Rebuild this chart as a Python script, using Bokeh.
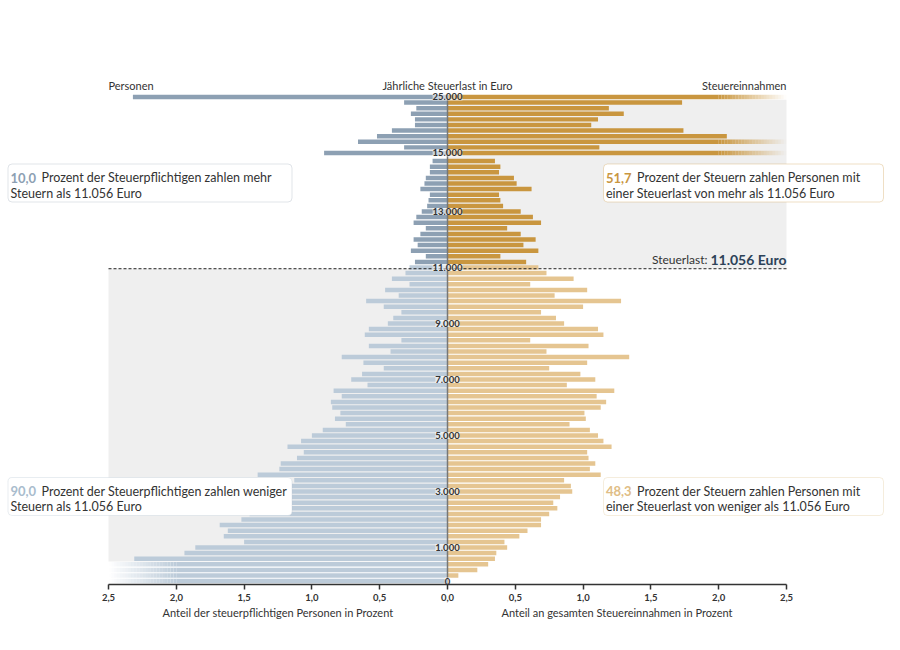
from bokeh.plotting import figure
from bokeh.models import (Range1d, LinearAxis, FixedTicker, CustomJSTickFormatter,
                          BoxAnnotation, ColumnDataSource)
from bokeh.core.properties import value
from bokeh.embed import file_html
from bokeh.resources import INLINE

# ------------------------------------------------------------------ data
# tax-burden bins (lower bound in Euro); the first bin is "exactly 0 Euro"
bins_low = [0] + list(range(0, 15000, 200)) + list(range(15000, 25001, 1000))

# share of tax payers (percent), from the 0-Euro bin upwards
personen = [
    3.2, 2.9, 2.8, 2.7, 2.31, 1.94, 1.86, 1.50, 1.65, 1.62,
    1.68, 1.52, 1.46, 1.42, 1.35, 1.38, 1.30, 1.27, 1.13, 1.40,
    1.24, 1.23, 1.11, 1.06, 1.18, 1.08, 1.00, 0.92, 0.75, 0.83,
    0.79, 0.85, 0.86, 0.78, 0.84, 0.59, 0.71, 0.63, 0.47, 0.62,
    0.78, 0.42, 0.58, 0.34, 0.61, 0.58, 0.44, 0.40, 0.34, 0.47,
    0.60, 0.36, 0.46, 0.28, 0.41, 0.31, 0.28, 0.24, 0.16, 0.27,
    0.22, 0.25, 0.20, 0.16, 0.25, 0.23, 0.19, 0.15, 0.14, 0.13,
    0.20, 0.17, 0.16, 0.13, 0.13, 0.11,
    0.91, 0.32, 0.66, 0.52, 0.41, 0.24, 0.24, 0.27, 0.23, 0.32, 2.32,
]
# share of total tax revenue (percent)
steuer = [
    0.0, 0.08, 0.22, 0.30, 0.35, 0.36, 0.44, 0.42, 0.53, 0.59,
    0.69, 0.69, 0.75, 0.81, 0.78, 0.83, 0.92, 0.91, 0.86, 1.13,
    1.05, 1.09, 1.04, 1.03, 1.21, 1.15, 1.11, 1.05, 0.90, 1.02,
    1.01, 1.13, 1.17, 1.10, 1.23, 0.88, 1.09, 0.98, 0.75, 1.03,
    1.34, 0.73, 1.04, 0.61, 1.15, 1.11, 0.86, 0.80, 0.69, 1.00,
    1.28, 0.79, 1.03, 0.61, 0.93, 0.73, 0.67, 0.58, 0.39, 0.67,
    0.56, 0.65, 0.54, 0.44, 0.69, 0.63, 0.54, 0.41, 0.39, 0.38,
    0.62, 0.51, 0.49, 0.38, 0.39, 0.35,
    3.4, 1.12, 3.2, 2.06, 1.74, 1.06, 1.11, 1.30, 1.19, 1.73, 23.8,
]
threshold = 11056
share_persons_above, share_persons_below = "10,0", "90,0"
share_tax_above, share_tax_below = "51,7", "48,3"
y_tick_values = [0, 1000, 3000, 5000, 7000, 9000, 11000, 13000, 15000, 25000]
y_tick_labels = ["0", "1.000", "3.000", "5.000", "7.000", "9.000", "11.000",
                 "13.000", "15.000", "25.000"]
x_ticks = [-2.5, -2.0, -1.5, -1.0, -0.5, 0.0, 0.5, 1.0, 1.5, 2.0, 2.5]

# ------------------------------------------------------------------ style
FONT = "Lato"
DARK_BLUE, LIGHT_BLUE = "#8da0b3", "#bccbd9"
DARK_GOLD, LIGHT_GOLD = "#c9963f", "#e5c591"
BG_GREY = "#efefef"
TXT = "#333333"
LIM = 2.5          # axis limit
FADE0 = 2.0        # start of fade-out for overflowing bars
BAR_H = 0.80
UPPER_GAP = 0.45   # extra gap before the 1000-Euro bins

# picture-pixel helpers (only used to place annotations / set the frame)
PX, X0 = 135.6, 447.0
PY, Y0 = 5.6, 575.0
def dx(px): return (px - X0) / PX
def dy(py): return (Y0 - py) / PY

W, H = 884, 630
FRAME_BOTTOM = 583.5
p = figure(width=W, height=H, output_backend="svg", toolbar_location=None,
           x_range=Range1d(dx(0), dx(W)), y_range=Range1d(dy(FRAME_BOTTOM), dy(0)),
           y_axis_location=None, min_border_left=0, min_border_right=0,
           min_border_top=0, min_border_bottom=int(H - FRAME_BOTTOM))
p.y_range.start = dy(H - int(H - FRAME_BOTTOM))
p.outline_line_color = None
p.xgrid.visible = False
p.ygrid.visible = False
p.background_fill_color = "white"
p.border_fill_color = "white"

# bar positions
pos = []
for k, b in enumerate(bins_low):
    pos.append(k - 1 + (UPPER_GAP if b >= 15000 else 0.0))
dark = [k > 0 and b > threshold for k, b in enumerate(bins_low)]
thr_pos = threshold / 200.0 - 0.5

# grey backgrounds
last_over = max(i for i, v in enumerate(personen[:10]) if v > LIM)
p.quad(left=[-LIM], right=[0], bottom=[pos[last_over] + 0.5], top=[thr_pos],
       fill_color=BG_GREY, line_color=None)
p.quad(left=[0], right=[LIM], bottom=[thr_pos], top=[pos[-1] - 0.5],
       fill_color=BG_GREY, line_color=None)

# solid bars
def solid_end(v):
    return FADE0 if v > LIM else v

src = ColumnDataSource(dict(
    y=pos,
    lleft=[-solid_end(v) for v in personen],
    rright=[solid_end(v) for v in steuer],
    lcol=[DARK_BLUE if d else LIGHT_BLUE for d in dark],
    rcol=[DARK_GOLD if d else LIGHT_GOLD for d in dark],
))
p.hbar(y="y", left="lleft", right=0, height=BAR_H, fill_color="lcol",
       line_color=None, source=src)
p.hbar(y="y", left=0, right="rright", height=BAR_H, fill_color="rcol",
       line_color=None, source=src)

# fading ends for values beyond the axis
N = 24
fy, fl, fr, fa, fc = [], [], [], [], []
for i, (vl, vr) in enumerate(zip(personen, steuer)):
    for side, v in ((-1, vl), (1, vr)):
        if v > LIM:
            col = (DARK_BLUE if dark[i] else LIGHT_BLUE) if side < 0 else \
                  (DARK_GOLD if dark[i] else LIGHT_GOLD)
            for j in range(N):
                a = FADE0 + (LIM - FADE0) * j / N
                b = FADE0 + (LIM - FADE0) * (j + 1) / N
                fy.append(pos[i])
                fl.append(min(side * a, side * b))
                fr.append(max(side * a, side * b))
                fa.append(1.0 - (j + 0.5) / N)
                fc.append(col)
p.hbar(y=fy, left=fl, right=fr, height=BAR_H, fill_color=fc, fill_alpha=fa,
       line_color=None)

# centre line
p.segment(x0=[0], x1=[0], y0=[dy(FRAME_BOTTOM)], y1=[pos[-1] + BAR_H / 2],
          line_color="#777777", line_width=1.5)

# threshold line + label
p.segment(x0=[-LIM], x1=[LIM], y0=[thr_pos], y1=[thr_pos], line_color="#222222",
          line_width=1, line_dash="3 2")
lab_y = thr_pos + 1.7
p.text(x=[LIM], y=[lab_y], text=["11.056 Euro"], text_align="right",
       text_baseline="middle", text_font=value(FONT), text_font_size="14px",
       text_font_style="bold", text_color="#2c4258")
p.text(x=[LIM], y=[lab_y], x_offset=-79, text=["Steuerlast:"],
       text_align="right", text_baseline="middle", text_font=value(FONT),
       text_font_size="12px", text_color=TXT)

# y tick labels (centred on the axis)
ty = []
for v in y_tick_values:
    k = 0 if v == 0 else [i for i, b in enumerate(bins_low) if b == v and i > 0][0]
    ty.append(pos[k])
p.text(x=[0] * len(ty), y=ty, text=y_tick_labels, text_align="center",
       text_baseline="middle", text_font=value(FONT), text_font_size="9.5px",
       text_font_style="bold", text_color=TXT, background_fill_color="white",
       background_fill_alpha=0.55)

# headers
hy = dy(85)
p.text(x=[-LIM], y=[hy], text=["Personen"], text_align="left",
       text_baseline="middle", text_font=value(FONT), text_font_size="11px",
       text_color=TXT)
p.text(x=[0], y=[hy], text=["Jährliche Steuerlast in Euro"], text_align="center",
       text_baseline="middle", text_font=value(FONT), text_font_size="11px",
       text_color=TXT)
p.text(x=[LIM], y=[hy], text=["Steuereinnahmen"], text_align="right",
       text_baseline="middle", text_font=value(FONT), text_font_size="11px",
       text_color=TXT)

# annotation boxes
boxes = [
    (7.5, 291.5, 163.5, 201.5, "#97a5b3", DARK_BLUE, share_persons_above,
     "Prozent der Steuerpflichtigen zahlen mehr", "Steuern als 11.056 Euro"),
    (603, 883, 163.5, 201.5, DARK_GOLD, DARK_GOLD, share_tax_above,
     "Prozent der Steuern zahlen Personen mit",
     "einer Steuerlast von mehr als 11.056 Euro"),
    (7.5, 291.5, 477, 515, "#b3c2d0", "#a9bccd", share_persons_below,
     "Prozent der Steuerpflichtigen zahlen weniger", "Steuern als 11.056 Euro"),
    (603, 883, 477, 515, "#dfc48f", "#e0bd85", share_tax_below,
     "Prozent der Steuern zahlen Personen mit",
     "einer Steuerlast von weniger als 11.056 Euro"),
]
for (l, r, t, b, bcol, ncol, num, line1, line2) in boxes:
    p.add_layout(BoxAnnotation(left=dx(l), right=dx(r), top=dy(t), bottom=dy(b),
                               fill_color="white", fill_alpha=1.0,
                               line_color=bcol, line_width=1, border_radius=4))
    r1 = p.text(x=[dx(l + 2.5)], y=[dy(t + 13.5)], text=[num], text_align="left",
                text_baseline="middle", text_font=value(FONT),
                text_font_size="13px", text_font_style="bold", text_color=ncol)
    r2 = p.text(x=[dx(l + 2.5)], y=[dy(t + 13.5)], x_offset=31, text=[line1],
                text_align="left", text_baseline="middle", text_font=value(FONT),
                text_font_size="12.5px", text_color=TXT)
    r3 = p.text(x=[dx(l + 2.5)], y=[dy(t + 29)], text=[line2], text_align="left",
                text_baseline="middle", text_font=value(FONT),
                text_font_size="12.5px", text_color=TXT)
    for rr in (r1, r2, r3):
        rr.level = "overlay"

# bottom axis
ax = p.xaxis[0]
ax.bounds = (-LIM, LIM)
ax.ticker = FixedTicker(ticks=x_ticks)
ax.formatter = CustomJSTickFormatter(
    code="return Math.abs(tick).toFixed(1).replace('.', ',');")
ax.axis_line_color = TXT
ax.axis_line_width = 1.5
ax.major_tick_line_color = TXT
ax.major_tick_line_width = 1.5
ax.major_tick_out = 5
ax.major_tick_in = 0
ax.minor_tick_line_color = None
ax.major_label_standoff = 4
ax.major_label_text_font = FONT
ax.major_label_text_font_size = "9.5px"
ax.major_label_text_font_style = "bold"
ax.major_label_text_color = TXT

# axis titles (one per half) as a second, line-less axis
ax2 = LinearAxis(
    ticker=FixedTicker(ticks=[-LIM / 2, LIM / 2]),
    formatter=CustomJSTickFormatter(
        args=dict(l="Anteil der steuerpflichtigen Personen in Prozent",
                  r="Anteil an gesamten Steuereinnahmen in Prozent"),
        code="return tick < 0 ? l : r;"),
    axis_line_color=None, major_tick_line_color=None, minor_tick_line_color=None,
    major_tick_out=0, major_tick_in=0, major_label_standoff=2,
    major_label_text_font=FONT, major_label_text_font_size="11px",
    major_label_text_color=TXT)
p.add_layout(ax2, "below")

open("out.html", "w").write(file_html(p, INLINE))
